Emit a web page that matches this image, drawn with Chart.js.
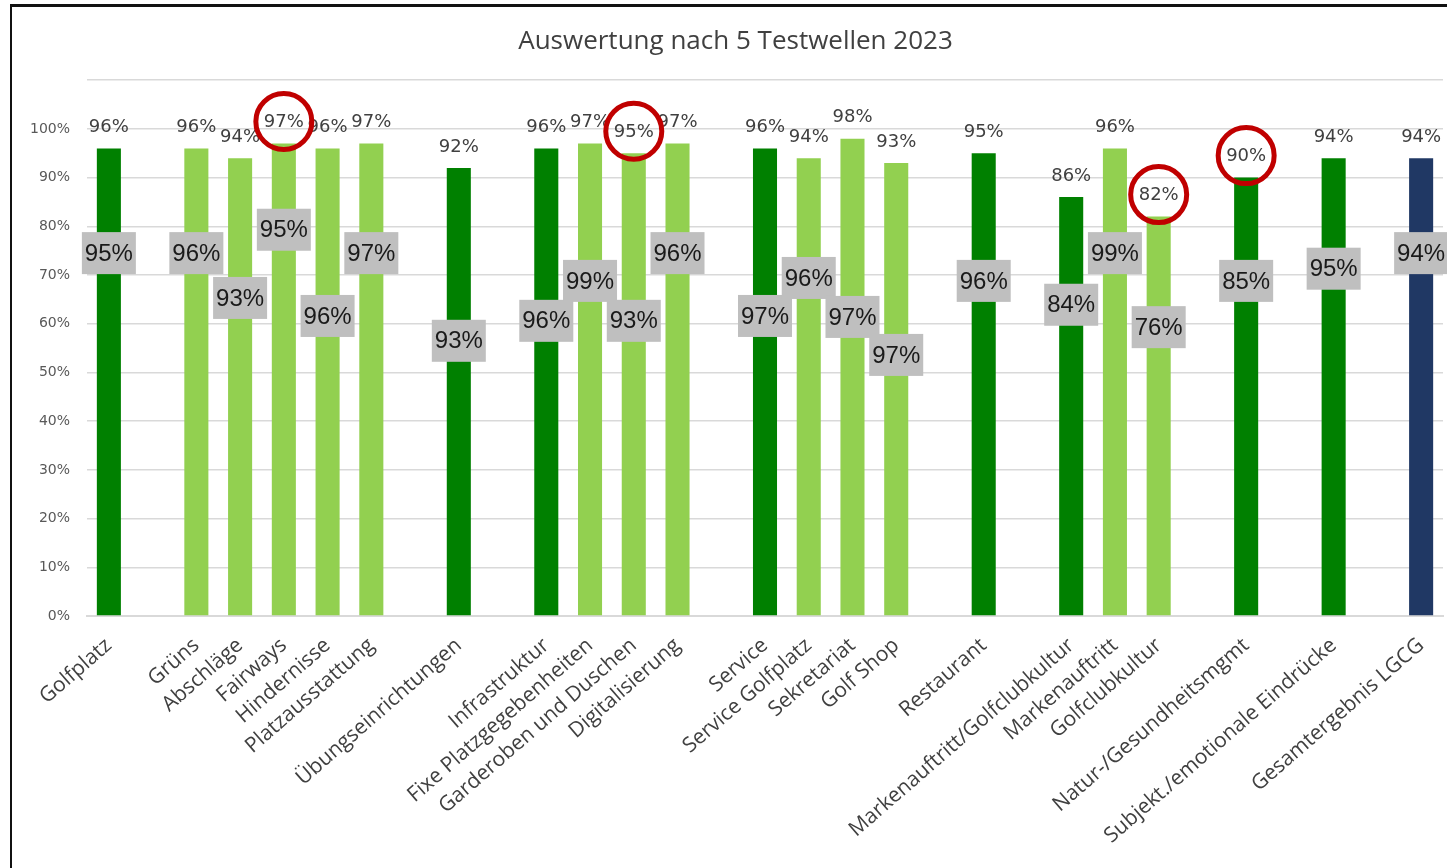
<!DOCTYPE html>
<html lang="de">
<head>
<meta charset="utf-8">
<title>Auswertung nach 5 Testwellen 2023</title>
<script src="https://cdn.jsdelivr.net/npm/chart.js@4.4.1/dist/chart.umd.min.js"></script>
<style>
    html, body { margin: 0; padding: 0; background: #fff; }
    .frame {
        position: absolute; left: 10px; top: 4px; width: 1437px; height: 864px;
        border-top: 3px solid #111; border-left: 2px solid #111;
    }
    .wrap { position: absolute; left: 0; top: 0; width: 1447px; height: 868px; }
</style>
</head>
<body>
<div class="frame"></div>
<div class="wrap"><canvas id="chart"></canvas></div>
<script>
// Kategorien ('' = Leerspalte zwischen den Gruppen)
const categories = [
    'Golfplatz', '', 'Grüns', 'Abschläge', 'Fairways', 'Hindernisse', 'Platzausstattung', '',
    'Übungseinrichtungen', '', 'Infrastruktur', 'Fixe Platzgegebenheiten', 'Garderoben und Duschen',
    'Digitalisierung', '', 'Service', 'Service Golfplatz', 'Sekretariat', 'Golf Shop', '',
    'Restaurant', '', 'Markenauftritt/Golfclubkultur', 'Markenauftritt', 'Golfclubkultur', '',
    'Natur-/Gesundheitsmgmt', '', 'Subjekt./emotionale Eindrücke', '', 'Gesamtergebnis LGCG'
];

// Ergebnis 2023 (Balken + Wert darüber)
const werte2023 = [96, null, 96, 94, 97, 96, 97, null, 92, null, 96, 97, 95, 97, null,
    96, 94, 98, 93, null, 95, null, 86, 96, 82, null, 90, null, 94, null, 94];

// Vergleichswert (graue Box)
const vergleich = [95, null, 96, 93, 95, 96, 97, null, 93, null, 96, 99, 93, 96, null,
    97, 96, 97, 97, null, 96, null, 84, 99, 76, null, 85, null, 95, null, 94];

// Ebene: h = Hauptkategorie, u = Unterkategorie, g = Gesamt
const ebene = ['h', '', 'u', 'u', 'u', 'u', 'u', '', 'h', '', 'h', 'u', 'u', 'u', '',
    'h', 'u', 'u', 'u', '', 'h', '', 'h', 'u', 'u', '', 'h', '', 'h', '', 'g'];

// rot eingekreiste Werte
const markiert = [4, 12, 24, 26];

// Höhe der grauen Boxen (in % der Achse)
const boxHoehe = [74.5, null, 74.5, 65.3, 79.3, 61.6, 74.5, null, 56.5, null, 60.6, 68.8, 60.6,
    74.5, null, 61.6, 69.4, 61.4, 53.6, null, 68.8, null, 63.9, 74.5, 59.3, null, 68.8, null,
    71.3, null, 74.5];

const farben = { h: '#008000', u: '#92D050', g: '#203864', '': 'rgba(0,0,0,0)' };

// Werte über den Balken, graue Boxen und rote Kreise
const labelPlugin = {
    id: 'labelPlugin',
    afterDatasetsDraw(chart) {
        const ctx = chart.ctx;
        const meta = chart.getDatasetMeta(0);
        const yScale = chart.scales.y;
        ctx.save();
        ctx.textAlign = 'center';
        ctx.textBaseline = 'middle';

        meta.data.forEach((bar, i) => {
            if (werte2023[i] == null) return;
            ctx.font = '18px "DejaVu Sans"';
            ctx.fillStyle = '#404040';
            ctx.fillText(werte2023[i] + '%', bar.x, bar.y - 21);
        });

        meta.data.forEach((bar, i) => {
            if (vergleich[i] == null) return;
            const y = yScale.getPixelForValue(boxHoehe[i]);
            ctx.fillStyle = '#bfbfbf';
            ctx.fillRect(bar.x - 27, y - 21, 54, 42);
            ctx.font = '24px "Liberation Sans"';
            ctx.fillStyle = '#1a1a1a';
            ctx.fillText(vergleich[i] + '%', bar.x, y + 1);
        });

        ctx.strokeStyle = '#c00000';
        ctx.lineWidth = 5;
        markiert.forEach(i => {
            const bar = meta.data[i];
            ctx.beginPath();
            ctx.arc(bar.x, bar.y - 22, 28, 0, Math.PI * 2);
            ctx.stroke();
        });
        ctx.restore();
    }
};

document.addEventListener('DOMContentLoaded', function() {
    const ctx = document.getElementById('chart').getContext('2d');
    new Chart(ctx, {
        type: 'bar',
        data: {
            labels: categories,
            datasets: [{
                label: 'Ergebnis 2023',
                data: werte2023,
                backgroundColor: ebene.map(e => farben[e]),
                borderWidth: 0,
                barPercentage: 0.55,
                categoryPercentage: 1.0
            }]
        },
        options: {
            responsive: true,
            maintainAspectRatio: false,
            animation: false,
            layout: { padding: { left: 28, right: 4, top: 0, bottom: 0 } },
            plugins: {
                legend: { display: false },
                tooltip: { enabled: false },
                title: {
                    display: true,
                    text: 'Auswertung nach 5 Testwellen 2023',
                    color: '#404040',
                    font: { family: 'Open Sans', size: 26, weight: 'normal' },
                    padding: { top: 26, bottom: 23 }
                }
            },
            scales: {
                x: {
                    grid: { display: false, drawTicks: false },
                    border: { display: true, color: '#d9d9d9', width: 2 },
                    ticks: {
                        autoSkip: false,
                        minRotation: 41,
                        maxRotation: 41,
                        padding: 17,
                        color: '#404040',
                        font: { family: 'Open Sans', size: 21 }
                    },
                    afterFit: function(scale) {
                        scale.height = 252;
                        scale.paddingLeft = 0;
                        scale.paddingRight = 0;
                    }
                },
                y: {
                    min: 0,
                    max: 110,
                    grid: { color: '#d9d9d9', lineWidth: 1.5, drawTicks: false },
                    border: { display: false },
                    ticks: {
                        stepSize: 10,
                        padding: 17,
                        color: '#595959',
                        font: { family: 'DejaVu Sans', size: 14 },
                        callback: v => (v > 100 ? '' : v + '%')
                    },
                    afterFit: function(scale) { scale.width = 59; }
                }
            }
        },
        plugins: [labelPlugin]
    });
});
</script>
</body>
</html>
